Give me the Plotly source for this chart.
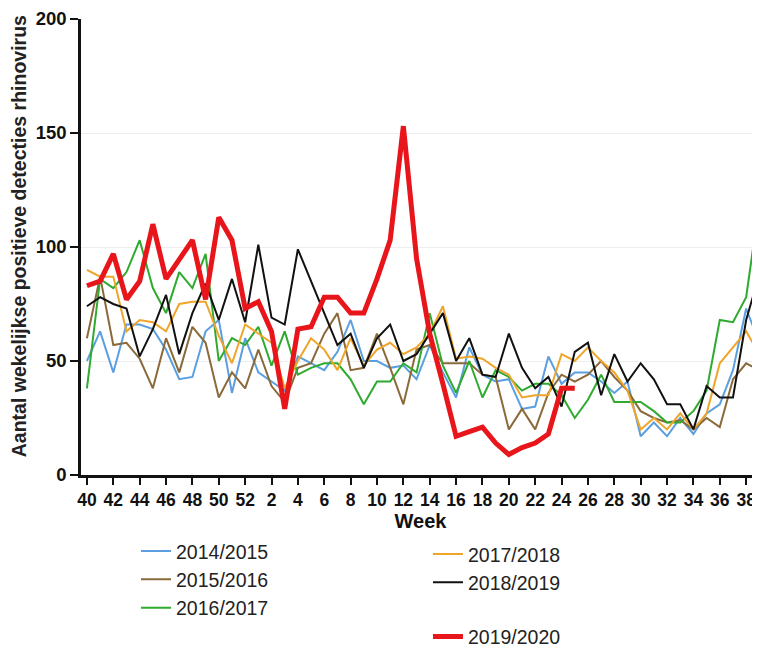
import plotly.graph_objects as go

weeks = list(range(40, 53)) + list(range(1, 40))

s2014 = [50, 63, 45, 66, 66, 64, 55, 42, 43, 63, 68, 36, 60,
         45, 41, 37, 52, 49, 46, 54, 68, 50, 50, 47, 48, 42, 57, 45, 34, 56, 44, 41, 42,
         29, 30, 52, 40, 45, 45, 41, 36, 41, 17, 23, 17, 25, 18, 27, 31, 46, 73, 58]
s2015 = [60, 87, 57, 58, 51, 38, 60, 45, 65, 58, 34, 45, 38,
         55, 39, 32, 47, 49, 62, 71, 46, 47, 62, 47, 31, 55, 57, 49, 49, 49, 44, 43, 20,
         29, 20, 36, 44, 41, 44, 50, 43, 37, 28, 25, 23, 24, 20, 25, 21, 42, 49, 46]
s2016 = [38, 86, 82, 89, 103, 82, 71, 89, 82, 97, 50, 60, 57,
         65, 48, 63, 44, 47, 49, 49, 42, 31, 41, 41, 49, 45, 71, 48, 36, 50, 34, 46, 43,
         37, 40, 40, 35, 25, 33, 44, 32, 32, 32, 28, 23, 23, 28, 37, 68, 67, 78, 119]
s2017 = [90, 87, 87, 63, 68, 67, 63, 75, 76, 76, 61, 49, 66,
         62, 58, 38, 50, 60, 55, 46, 60, 48, 55, 58, 53, 56, 62, 74, 51, 52, 51, 47, 44,
         34, 35, 35, 53, 50, 56, 50, 45, 37, 20, 25, 20, 27, 20, 27, 49, 56, 63, 53]
s2018 = [74, 78, 75, 73, 52, 64, 79, 53, 71, 84, 68, 86, 67,
         101, 69, 66, 99, 85, 71, 57, 62, 47, 60, 66, 50, 53, 62, 71, 50, 60, 44, 43, 62,
         47, 38, 43, 30, 54, 58, 35, 53, 41, 49, 42, 31, 31, 20, 39, 34, 34, 68, 88]
s2019 = [83, 85, 97, 77, 85, 110, 86, 95, 103, 77, 113, 103, 73,
         76, 63, 29, 64, 65, 78, 78, 71, 71, 86, 103, 153, 95, 62, 40, 17, 19, 21, 14, 9,
         12, 14, 18, 38, 38] + [None] * 14

series = [
    ("2014/2015", s2014, "#5B9FE0", 2, "legend"),
    ("2015/2016", s2015, "#8A6A3A", 2, "legend"),
    ("2016/2017", s2016, "#2EAA2E", 2, "legend"),
    ("2017/2018", s2017, "#EFA52A", 2, "legend2"),
    ("2018/2019", s2018, "#111111", 2, "legend2"),
    ("2019/2020", s2019, "#E8151B", 5, "legend3"),
]

x = list(range(len(weeks)))
tickvals = [i for i, w in enumerate(weeks) if w % 2 == 0]
ticktext = [str(weeks[i]) for i in tickvals]

fig = go.Figure()
for name, vals, color, width, leg in series:
    fig.add_trace(go.Scatter(x=x, y=vals, mode="lines", name=name,
                             line=dict(color=color, width=width),
                             legend=leg, connectgaps=False))

font_family = "Liberation Sans, Arial, sans-serif"
legend_common = dict(font=dict(family=font_family, size=19.5, color="#222222"),
                     bgcolor="rgba(0,0,0,0)", borderwidth=0,
                     orientation="v", yanchor="top", xanchor="left",
                     tracegroupgap=0)

fig.update_layout(
    width=752, height=652,
    margin=dict(l=73, r=0, t=9, b=185),
    paper_bgcolor="white", plot_bgcolor="white",
    font=dict(family=font_family, color="#111111"),
    showlegend=True,
    legend=dict(x=0.081, y=-0.1245, **legend_common),
    legend2=dict(x=0.511, y=-0.131, **legend_common),
    legend3=dict(x=0.511, y=-0.312, **legend_common),
    xaxis=dict(
        range=[-0.45, 51.05],
        tickmode="array", tickvals=tickvals, ticktext=ticktext,
        ticks="outside", ticklen=7, tickwidth=2, tickcolor="#111111",
        showline=True, linecolor="#111111", linewidth=2.5,
        showgrid=False, zeroline=False, ticklabeloverflow="allow",
        tickfont=dict(family=font_family, size=17.5, color="#111111", weight="bold"),
        title=dict(text="<b>Week</b>", font=dict(family=font_family, size=20, color="#111111"),
                   standoff=6),
    ),
    yaxis=dict(
        range=[0, 200],
        tickvals=[0, 50, 100, 150, 200],
        ticks="outside", ticklen=8, tickwidth=2, tickcolor="#111111",
        showline=True, linecolor="#111111", linewidth=2.5,
        showgrid=True, gridcolor="#eeeeee", gridwidth=1,
        zeroline=False, ticklabeloverflow="allow",
        tickfont=dict(family=font_family, size=18.5, color="#111111", weight="bold"),
        title=dict(text="<b>&nbsp;&nbsp;&nbsp;&nbsp;Aantal wekelijkse positieve detecties rhinovirus</b>",
                   font=dict(family=font_family, size=19.5, color="#222222"),
                   standoff=5),
    ),
)

fig.write_html("out.html")
